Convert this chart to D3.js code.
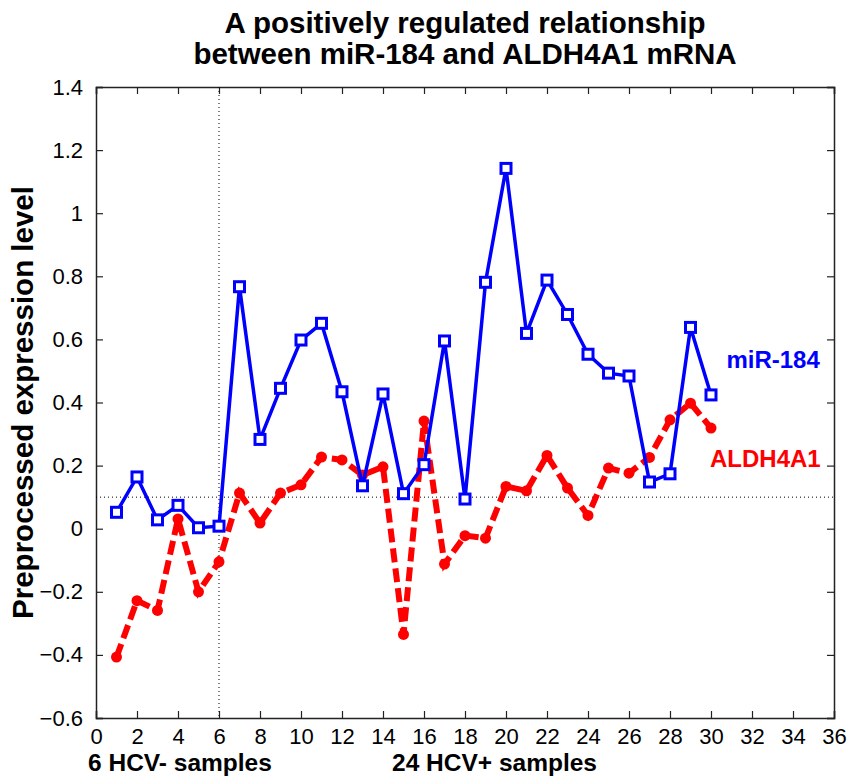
<!DOCTYPE html>
<html>
<head>
<meta charset="utf-8">
<script src="https://cdn.jsdelivr.net/npm/d3@7"></script>
<style>
  body { margin: 0; background: #fff; }
  svg { display: block; font-family: "Liberation Sans", Arial, sans-serif; }
</style>
</head>
<body>
<svg id="grafico" width="848" height="776"></svg>
<script>
// datos
const muestras = d3.range(1, 31);
const mir184 = [0.052, 0.164, 0.028, 0.074, 0.003, 0.008, 0.767, 0.283, 0.445, 0.598,
                0.651, 0.434, 0.136, 0.427, 0.111, 0.203, 0.595, 0.094, 0.781, 1.142,
                0.619, 0.788, 0.679, 0.553, 0.493, 0.484, 0.148, 0.174, 0.638, 0.424];
const aldh4a1 = [-0.407, -0.228, -0.259, 0.031, -0.200, -0.105, 0.113, 0.018, 0.113, 0.139,
                 0.227, 0.218, 0.170, 0.196, -0.335, 0.341, -0.112, -0.022, -0.030, 0.134,
                 0.120, 0.232, 0.129, 0.042, 0.192, 0.176, 0.226, 0.345, 0.398, 0.319];
const ticks_x = d3.range(0, 37, 2);
const ticks_y = [-0.6, -0.4, -0.2, 0, 0.2, 0.4, 0.6, 0.8, 1, 1.2, 1.4];
const umbral = 0.1;
const corte = 6;

const margen = {top: 87, right: 14, bottom: 58, left: 96};
const ancho = 848, alto = 776;

const svg = d3.select('#grafico');

const escalaX = d3.scaleLinear().domain([0, 36]).range([margen.left, ancho - margen.right]);
const escalaY = d3.scaleLinear().domain([-0.6, 1.4]).range([alto - margen.bottom, margen.top]);

// titulo
svg.append('text')
    .attr('x', 465).attr('y', 33)
    .attr('text-anchor', 'middle')
    .style('font-size', '29.5px').style('font-weight', 'bold')
    .text('A positively regulated relationship');
svg.append('text')
    .attr('x', 465).attr('y', 64)
    .attr('text-anchor', 'middle')
    .style('font-size', '29.5px').style('font-weight', 'bold')
    .text('between miR-184 and ALDH4A1 mRNA');

// ejes
const ejeAbajo = d3.axisBottom(escalaX).tickValues(ticks_x).tickSize(-7).tickPadding(10).tickFormat(d3.format('d'));
const ejeArriba = d3.axisTop(escalaX).tickValues(ticks_x).tickSize(-7).tickFormat('');
const ejeIzq = d3.axisLeft(escalaY).tickValues(ticks_y).tickSize(-7).tickPadding(13).tickFormat(d => d3.format('')(+d.toFixed(1)));
const ejeDer = d3.axisRight(escalaY).tickValues(ticks_y).tickSize(-7).tickFormat('');

svg.append('g').attr('transform', `translate(0,${alto - margen.bottom})`).call(ejeAbajo);
svg.append('g').attr('transform', `translate(0,${margen.top})`).call(ejeArriba);
svg.append('g').attr('transform', `translate(${margen.left},0)`).call(ejeIzq);
svg.append('g').attr('transform', `translate(${ancho - margen.right},0)`).call(ejeDer);

svg.selectAll('.domain').attr('stroke', '#222').attr('stroke-width', 1.5);
svg.selectAll('.tick line').attr('stroke', '#222').attr('stroke-width', 1.2);
svg.selectAll('.tick text').style('font-size', '22px').attr('fill', '#000')
    .style('font-family', '"Liberation Sans", Arial, sans-serif');

// lineas punteadas
svg.append('line')
    .attr('x1', escalaX(0)).attr('x2', escalaX(36))
    .attr('y1', escalaY(umbral)).attr('y2', escalaY(umbral))
    .attr('stroke', '#000').attr('stroke-width', 1).attr('stroke-dasharray', '1,3');
svg.append('line')
    .attr('x1', escalaX(corte)).attr('x2', escalaX(corte))
    .attr('y1', escalaY(1.4)).attr('y2', escalaY(-0.6))
    .attr('stroke', '#000').attr('stroke-width', 1).attr('stroke-dasharray', '1,3');

// ALDH4A1 (rojo, punteado)
const linea = serie => d3.line()
    .x((d, i) => escalaX(muestras[i]))
    .y(d => escalaY(d))(serie);

svg.append('path')
    .attr('d', linea(aldh4a1))
    .attr('fill', 'none')
    .attr('stroke', '#ff0000')
    .attr('stroke-width', 6)
    .attr('stroke-dasharray', '14,6');

svg.append('g').selectAll('circle')
    .data(aldh4a1)
    .join('circle')
    .attr('cx', (d, i) => escalaX(muestras[i]))
    .attr('cy', d => escalaY(d))
    .attr('r', 5.5)
    .attr('fill', '#ff0000');

// miR-184 (azul, cuadrados)
svg.append('path')
    .attr('d', linea(mir184))
    .attr('fill', 'none')
    .attr('stroke', '#0000ff')
    .attr('stroke-width', 3.5);

const lado = 10;
svg.append('g').selectAll('rect')
    .data(mir184)
    .join('rect')
    .attr('x', (d, i) => escalaX(muestras[i]) - lado / 2)
    .attr('y', d => escalaY(d) - lado / 2)
    .attr('width', lado)
    .attr('height', lado)
    .attr('fill', '#fff')
    .attr('stroke', '#0000ff')
    .attr('stroke-width', 3);

// etiquetas de series
svg.append('text')
    .attr('x', escalaX(30.75)).attr('y', escalaY(0.51))
    .attr('fill', '#0000ff')
    .style('font-size', '24px').style('font-weight', 'bold')
    .text('miR-184');
svg.append('text')
    .attr('x', escalaX(29.95)).attr('y', escalaY(0.195))
    .attr('fill', '#ff0000')
    .style('font-size', '24px').style('font-weight', 'bold')
    .text('ALDH4A1');

// titulos de ejes
svg.append('text')
    .attr('transform', `translate(33,${(margen.top + alto - margen.bottom) / 2}) rotate(-90)`)
    .attr('text-anchor', 'middle')
    .style('font-size', '29.5px').style('font-weight', 'bold')
    .text('Preprocessed expression level');

svg.append('text')
    .attr('x', 88).attr('y', 771)
    .style('font-size', '24.5px').style('font-weight', 'bold')
    .text('6 HCV- samples');
svg.append('text')
    .attr('x', 392).attr('y', 771)
    .style('font-size', '24.5px').style('font-weight', 'bold')
    .text('24 HCV+ samples');
</script>
</body>
</html>
